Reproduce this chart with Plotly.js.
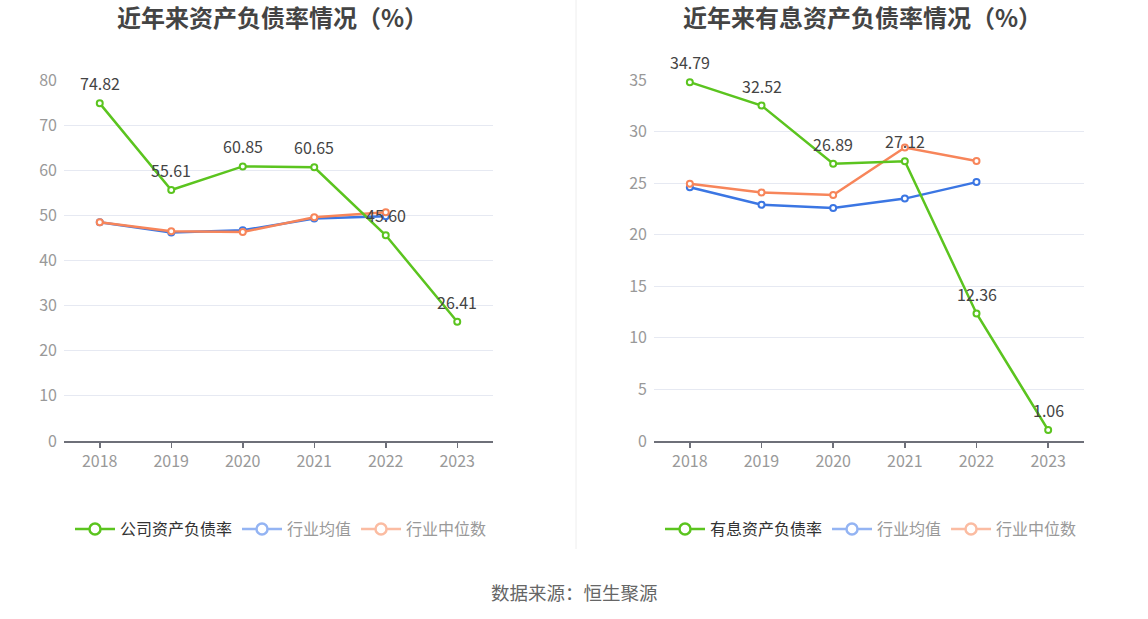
<!DOCTYPE html>
<html>
<head>
<meta charset="utf-8">
<script src="https://cdn.plot.ly/plotly-3.0.1.min.js"></script>
<style>html,body{margin:0;padding:0;background:#fff;}#chart{width:1148px;height:619px;}</style>
</head>
<body>
<div id="chart"></div>
<script>
// ---- data ----
const years = ['2018', '2019', '2020', '2021', '2022', '2023'];
const companyDebtRatio = [74.82, 55.61, 60.85, 60.65, 45.60, 26.41];
const industryAvgDebt = [48.5, 46.2, 46.7, 49.3, 49.8, null];
const industryMedDebt = [48.5, 46.5, 46.3, 49.6, 50.7, null];
const companyIntDebt = [34.79, 32.52, 26.89, 27.12, 12.36, 1.06];
const industryAvgInt = [24.6, 22.9, 22.6, 23.5, 25.1, null];
const industryMedInt = [24.95, 24.1, 23.85, 28.45, 27.15, null];
const leftTitle = '近年来资产负债率情况（%）';
const rightTitle = '近年来有息资产负债率情况（%）';
const leftNames = ['公司资产负债率', '行业均值', '行业中位数'];
const rightNames = ['有息资产负债率', '行业均值', '行业中位数'];
const sourceText = '数据来源：恒生聚源';

const GREEN = '#5BC41F', BLUE = '#3B76E3', ORANGE = '#F7855A';
const GREEN_L = '#5BC41F', BLUE_L = '#94B4F3', ORANGE_L = '#FBBCA2';
const FONT = '"Noto Sans CJK SC", "Noto Sans", sans-serif';

function series(x, y, color, xa, ya) {
  return {
    x: x, y: y, xaxis: xa, yaxis: ya, type: 'scatter', mode: 'lines+markers',
    line: {color: color, width: 2.5},
    marker: {symbol: 'circle', size: 6, color: '#fff', line: {color: color, width: 2}},
    showlegend: false, hoverinfo: 'x+y', cliponaxis: false
  };
}
function labels(x, y, xa, ya) {
  return y.map((v, i) => ({
    x: x.indexOf(x[i]), y: v, xref: xa, yref: ya, text: v.toFixed(2), showarrow: false,
    xanchor: 'center', yanchor: 'bottom', yshift: 6, font: {family: FONT, size: 16, color: '#444'}
  }));
}
function legendItem(name, color, textColor, leg, xa, ya) {
  return {
    x: [null], y: [null], xaxis: xa, yaxis: ya, type: 'scatter', mode: 'lines+markers',
    name: '<span style="color:' + textColor + '">' + name + '</span>',
    line: {color: color, width: 2.5},
    marker: {symbol: 'circle', size: 11, color: '#fff', line: {color: color, width: 2.5}},
    legend: leg, showlegend: true
  };
}

const data = [
  series(years, industryAvgDebt, BLUE, 'x', 'y'),
  series(years, industryMedDebt, ORANGE, 'x', 'y'),
  series(years, companyDebtRatio, GREEN, 'x', 'y'),
  series(years, industryAvgInt, BLUE, 'x2', 'y2'),
  series(years, industryMedInt, ORANGE, 'x2', 'y2'),
  series(years, companyIntDebt, GREEN, 'x2', 'y2'),
  legendItem(leftNames[0], GREEN_L, '#333', 'legend', 'x', 'y'),
  legendItem(leftNames[1], BLUE_L, '#999', 'legend', 'x', 'y'),
  legendItem(leftNames[2], ORANGE_L, '#999', 'legend', 'x', 'y'),
  legendItem(rightNames[0], GREEN_L, '#333', 'legend2', 'x2', 'y2'),
  legendItem(rightNames[1], BLUE_L, '#999', 'legend2', 'x2', 'y2'),
  legendItem(rightNames[2], ORANGE_L, '#999', 'legend2', 'x2', 'y2')
];

const xCommon = {
  type: 'category', range: [-0.5, 5.5], showgrid: false, zeroline: false,
  showline: true, linecolor: '#6E7079', linewidth: 1.5,
  ticks: 'outside', ticklen: 5, tickcolor: '#6E7079', tickwidth: 1.5,
  tickfont: {family: FONT, size: 16, color: '#999'}, fixedrange: true
};
const yCommon = {
  showgrid: true, gridcolor: '#E6E9F2', gridwidth: 1, zeroline: false, showline: false,
  ticks: '', tickfont: {family: FONT, size: 16, color: '#999'}, ticklabelstandoff: 6,
  domain: [1 - 441 / 619, 1 - 80 / 619], fixedrange: true
};
const legCommon = {
  orientation: 'h', yanchor: 'middle', y: 1 - 529 / 619, xanchor: 'center',
  font: {family: FONT, size: 16, color: '#333'}, bgcolor: 'rgba(0,0,0,0)',
  itemwidth: 40, tracegroupgap: 0
};

const layout = {
  width: 1148, height: 619,
  margin: {l: 0, r: 0, t: 0, b: 0},
  paper_bgcolor: '#fff', plot_bgcolor: '#fff',
  font: {family: FONT},
  xaxis: Object.assign({}, xCommon, {domain: [64 / 1148, 493 / 1148], anchor: 'y'}),
  yaxis: Object.assign({}, yCommon, {range: [0, 80], dtick: 10, anchor: 'x'}),
  xaxis2: Object.assign({}, xCommon, {domain: [654 / 1148, 1084 / 1148], anchor: 'y2'}),
  yaxis2: Object.assign({}, yCommon, {range: [0, 35], dtick: 5, anchor: 'x2'}),
  legend: Object.assign({}, legCommon, {x: 281 / 1148}),
  legend2: Object.assign({}, legCommon, {x: 871 / 1148}),
  showlegend: true,
  annotations: [
    {text: '<b>' + leftTitle + '</b>', xref: 'paper', yref: 'paper', x: 272 / 1148, y: 1 - 17 / 619,
     xanchor: 'center', yanchor: 'middle', showarrow: false, font: {family: FONT, size: 24, color: '#444'}},
    {text: '<b>' + rightTitle + '</b>', xref: 'paper', yref: 'paper', x: 862 / 1148, y: 1 - 17 / 619,
     xanchor: 'center', yanchor: 'middle', showarrow: false, font: {family: FONT, size: 24, color: '#444'}},
    {text: sourceText, xref: 'paper', yref: 'paper', x: 574 / 1148, y: 1 - 592 / 619,
     xanchor: 'center', yanchor: 'middle', showarrow: false, font: {family: FONT, size: 18.5, color: '#666'}}
  ].concat(labels(years, companyDebtRatio, 'x', 'y'), labels(years, companyIntDebt, 'x2', 'y2')),
  shapes: [
    {type: 'line', xref: 'paper', yref: 'paper', x0: 576 / 1148, x1: 576 / 1148, y0: 1 - 549 / 619, y1: 1,
     line: {color: '#EEEEEE', width: 1}}
  ]
};

Plotly.newPlot('chart', data, layout, {displayModeBar: false, staticPlot: true});
</script>
</body>
</html>
